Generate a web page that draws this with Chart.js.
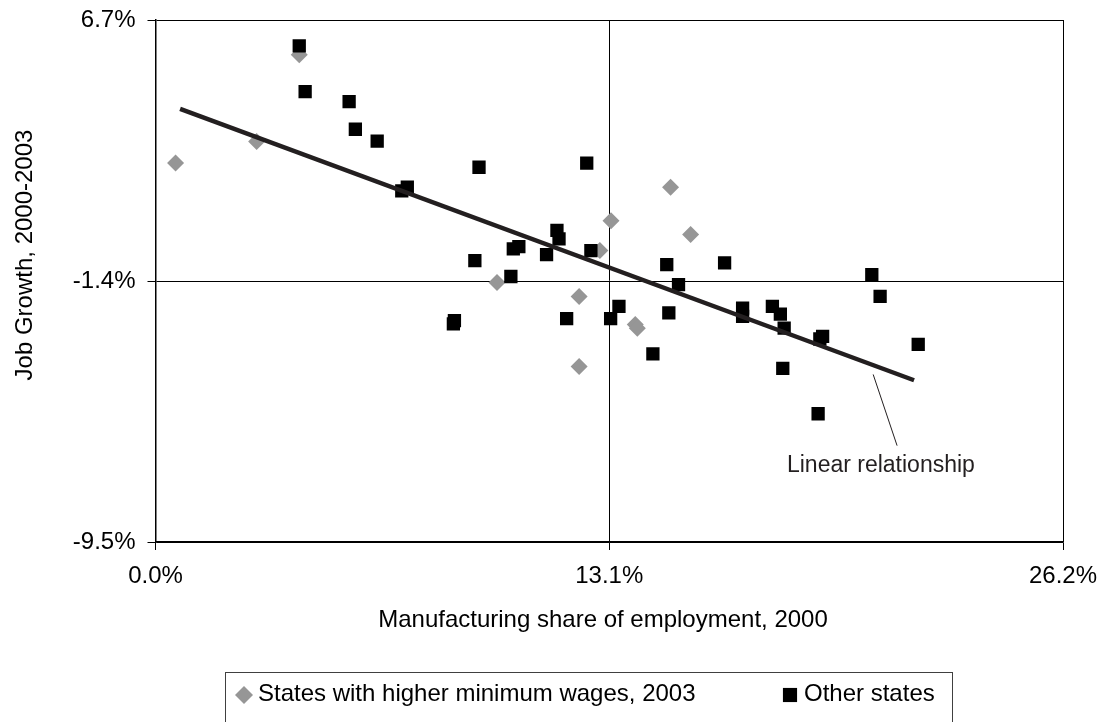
<!DOCTYPE html>
<html>
<head>
<meta charset="utf-8">
<script src="https://cdn.jsdelivr.net/npm/chart.js@4.4.0/dist/chart.umd.min.js"></script>
<style>
  body { margin: 0; background: #fff; }
  #wrap { width: 1101px; height: 722px; }
</style>
</head>
<body>
<div id="wrap"><canvas id="myChart"></canvas></div>
<script>
  const xTicks = [0, 13.1, 26.2]
  const yTicks = [-9.5, -1.4, 6.7]

  // states with higher minimum wages, 2003
  const minWageX = [0.58, 2.92, 4.15, 9.86, 12.23, 12.23, 12.83, 13.15, 13.85, 13.91, 14.87, 15.45]
  const minWageY = [2.26, 2.93, 5.62, -1.45, -1.88, -4.05, -0.45, 0.47, -2.75, -2.87, 1.51, 0.04]

  // other states
  const otherX = [4.15, 4.32, 5.59, 5.77, 6.40, 7.11, 7.27, 8.60, 8.63, 9.22, 9.34, 10.26, 10.33, 10.49, 11.29,
    11.59, 11.65, 11.87, 12.45, 12.57, 13.14, 13.38, 14.36, 14.76, 14.82, 15.10, 16.43, 16.95, 16.95, 17.81,
    18.04, 18.11, 18.15, 19.13, 19.18, 19.26, 20.68, 20.92, 22.02]
  const otherY = [5.90, 4.48, 4.17, 3.31, 2.94, 1.40, 1.51, -2.73, -2.63, -0.77, 2.13, -1.26, -0.40, -0.33, -0.58,
    0.17, -0.09, -2.57, 2.26, -0.46, -2.57, -2.19, -3.66, -0.89, -2.39, -1.51, -0.84, -2.24, -2.50, -2.19,
    -2.43, -4.11, -2.86, -5.52, -3.20, -3.12, -1.20, -1.88, -3.37]

  // fitted line at both ends
  const trendX = [0.71, 21.90]
  const trendY = [3.94, -4.48]

  const noteText = 'Linear relationship'
  const notePos = { x: 18.23, y: -7.12 }
  const noteLine = [{ x: 20.72, y: -4.30 }, { x: 21.41, y: -6.51 }]

  const fontFamily = '"Liberation Sans", Arial, Helvetica, sans-serif'

  function toPoints(xs, ys) {
    return xs.map((x, i) => ({ x: x, y: ys[i] }))
  }

  // keep tick labels from pushing the plot box inwards
  function noOverhang(s) {
    s.paddingLeft = 0
    s.paddingRight = 0
    s.paddingTop = 0
    s.paddingBottom = 0
  }

  // axis titles, the note and the boxed legend
  const extras = {
    id: 'extras',
    afterDraw(chart) {
      const ctx = chart.ctx
      const sx = chart.scales.x, sy = chart.scales.y

      ctx.save()
      ctx.fillStyle = '#000'
      ctx.font = '24px ' + fontFamily
      ctx.textBaseline = 'middle'
      ctx.textAlign = 'center'
      ctx.fillText('Manufacturing share of employment, 2000', 603, 620)

      ctx.save()
      ctx.translate(25, 255)
      ctx.rotate(-Math.PI / 2)
      ctx.fillText('Job Growth, 2000-2003', 0, 0)
      ctx.restore()

      ctx.strokeStyle = '#231f20'
      ctx.lineWidth = 1
      ctx.beginPath()
      ctx.moveTo(sx.getPixelForValue(noteLine[0].x), sy.getPixelForValue(noteLine[0].y))
      ctx.lineTo(sx.getPixelForValue(noteLine[1].x), sy.getPixelForValue(noteLine[1].y))
      ctx.stroke()

      ctx.fillStyle = '#231f20'
      ctx.font = '23px ' + fontFamily
      ctx.textAlign = 'left'
      ctx.fillText(noteText, sx.getPixelForValue(notePos.x), sy.getPixelForValue(notePos.y))

      // legend box, its lower edge runs off the bottom of the picture
      ctx.strokeStyle = '#404040'
      ctx.lineWidth = 1
      ctx.strokeRect(225.5, 672.5, 727, 60)

      const items = [
        { ds: chart.data.datasets[0], mx: 244, tx: 258, r: 9 },
        { ds: chart.data.datasets[1], mx: 790, tx: 804, r: 10 }
      ]
      ctx.font = '24px ' + fontFamily
      items.forEach((it) => {
        ctx.fillStyle = it.ds.backgroundColor
        Chart.helpers.drawPoint(ctx, { pointStyle: it.ds.pointStyle, radius: it.r, borderWidth: 0 }, it.mx, 695)
        ctx.fillStyle = '#000'
        ctx.fillText(it.ds.label, it.tx, 694)
      })
      ctx.restore()
    }
  }

  let ctx = document.getElementById('myChart')

  new Chart(ctx, {
    type: 'scatter',
    data: {
      datasets: [
        {
          label: 'States with higher minimum wages, 2003',
          data: toPoints(minWageX, minWageY),
          backgroundColor: '#969696',
          pointStyle: 'rectRot',
          pointRadius: 8.5,
          borderWidth: 0,
          order: 2
        },
        {
          label: 'Other states',
          data: toPoints(otherX, otherY),
          backgroundColor: '#000000',
          pointStyle: 'rect',
          pointRadius: 9.4,
          borderWidth: 0,
          order: 1
        },
        {
          type: 'line',
          label: 'Linear relationship',
          data: toPoints(trendX, trendY),
          borderColor: '#231f20',
          borderWidth: 4.5,
          pointRadius: 0,
          order: 0
        }
      ]
    },
    options: {
      responsive: true,
      maintainAspectRatio: false,
      animation: false,
      layout: { padding: { left: 0, right: 38, top: 20, bottom: 0 } },
      plugins: {
        legend: { display: false },
        tooltip: { enabled: false }
      },
      scales: {
        x: {
          type: 'linear',
          min: xTicks[0],
          max: xTicks[xTicks.length - 1],
          afterBuildTicks: (s) => { s.ticks = xTicks.map((v) => ({ value: v })) },
          afterFit: (s) => { s.height = 180; noOverhang(s) },
          ticks: {
            color: '#000',
            padding: 12,
            maxRotation: 0,
            font: { family: fontFamily, size: 24 },
            callback: (v) => v.toFixed(1) + '%'
          },
          grid: { color: '#000', lineWidth: 1, tickLength: 8 },
          border: { color: '#000', width: 1.5 }
        },
        y: {
          type: 'linear',
          min: yTicks[0],
          max: yTicks[yTicks.length - 1],
          afterBuildTicks: (s) => { s.ticks = yTicks.map((v) => ({ value: v })) },
          afterFit: (s) => { s.width = 155.5; noOverhang(s) },
          ticks: {
            color: '#000',
            padding: 12,
            font: { family: fontFamily, size: 24 },
            callback: (v) => v.toFixed(1) + '%'
          },
          grid: { color: '#000', lineWidth: 1, tickLength: 8 },
          border: { color: '#000', width: 1.5 }
        }
      }
    },
    plugins: [extras]
  })
</script>
</body>
</html>
